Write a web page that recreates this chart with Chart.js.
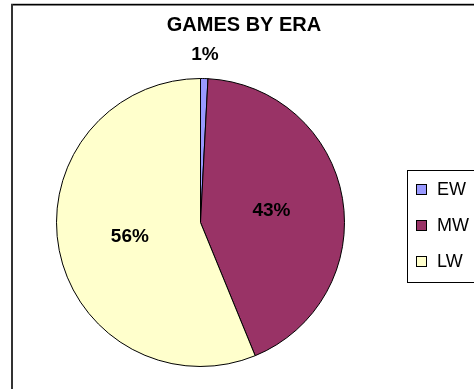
<!DOCTYPE html>
<html>
<head>
<meta charset="utf-8">
<script src="https://cdn.jsdelivr.net/npm/chart.js@4/dist/chart.umd.min.js"></script>
<style>
  html, body { margin: 0; padding: 0; background: #fff; }
  #wrap { width: 474px; height: 389px; position: relative; }
</style>
</head>
<body>
<div id="wrap"><canvas id="c" width="474" height="389"></canvas></div>
<script>
const chartTitle = "GAMES BY ERA";
const categories = ["EW", "MW", "LW"];
const gameCounts = [1, 52, 68];
const sliceColors = ["#9999FF", "#993366", "#FFFFCC"];

const FONT = "'Liberation Sans', Arial, sans-serif";

const framePlugin = {
  id: 'frame',
  beforeDraw(chart) {
    const ctx = chart.ctx;
    ctx.save();
    ctx.fillStyle = '#fff';
    ctx.fillRect(0, 0, chart.width, chart.height);
    ctx.fillStyle = '#c8c8c8';
    ctx.fillRect(11, 3, chart.width, 1);
    ctx.fillStyle = '#000';
    ctx.fillRect(12, 4, chart.width, 1.5);
    ctx.fillStyle = '#333';
    ctx.fillRect(11, 4, 2, chart.height);
    // title
    ctx.fillStyle = '#000';
    ctx.font = "bold 20px " + FONT;
    ctx.textAlign = 'center';
    ctx.textBaseline = 'middle';
    ctx.fillText(chartTitle, 244, 25);
    ctx.restore();
  },
  afterDraw(chart) {
    const ctx = chart.ctx;
    const meta = chart.getDatasetMeta(0);
    const data = chart.data.datasets[0].data;
    const total = data.reduce((a, b) => a + b, 0);
    ctx.save();
    ctx.fillStyle = '#000';
    ctx.font = "bold 19px " + FONT;
    ctx.textAlign = 'center';
    ctx.textBaseline = 'middle';
    meta.data.forEach((arc, i) => {
      const p = arc.getProps(['x', 'y', 'startAngle', 'endAngle', 'outerRadius'], true);
      const frac = data[i] / total;
      const mid = (p.startAngle + p.endAngle) / 2;
      const r = frac < 0.05 ? p.outerRadius + 24 : p.outerRadius * 0.5;
      const tx = p.x + Math.cos(mid) * r;
      const ty = p.y + Math.sin(mid) * r;
      ctx.fillText(Math.round(frac * 100) + '%', tx, ty);
    });
    // legend
    ctx.strokeStyle = '#000';
    ctx.lineWidth = 1;
    ctx.strokeRect(407.5, 170.5, 100, 112);
    ctx.font = "18px " + FONT;
    ctx.textAlign = 'left';
    const rows = [190, 226, 262];
    categories.forEach((lab, i) => {
      ctx.fillStyle = sliceColors[i];
      ctx.fillRect(416, rows[i] - 6, 11, 11);
      ctx.strokeStyle = '#000';
      ctx.strokeRect(416.5, rows[i] - 5.5, 10, 10);
      ctx.fillStyle = '#000';
      ctx.fillText(lab, 437, rows[i]);
    });
    ctx.restore();
  }
};

new Chart(document.getElementById('c'), {
  type: 'pie',
  data: {
    labels: categories,
    datasets: [{
      data: gameCounts,
      backgroundColor: sliceColors,
      borderColor: '#000',
      borderWidth: 1
    }]
  },
  options: {
    responsive: false,
    animation: false,
    layout: { padding: { left: 56, right: 129, top: 78, bottom: 22 } },
    plugins: {
      legend: { display: false },
      title: { display: false },
      tooltip: { enabled: false }
    }
  },
  plugins: [framePlugin]
});
</script>
</body>
</html>
